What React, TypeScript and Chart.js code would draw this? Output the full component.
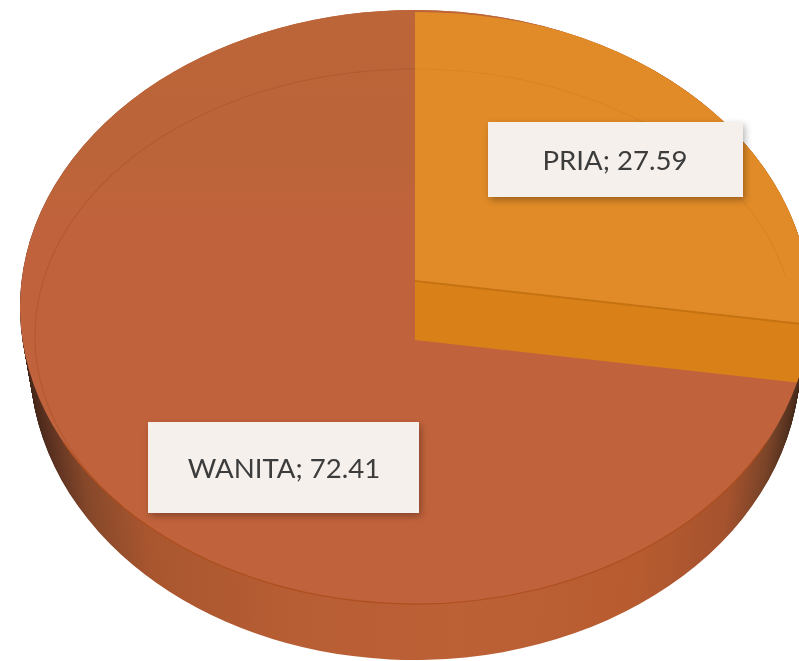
import React, { useEffect, useRef } from "react";
import { Chart, registerables } from "chart.js";

Chart.register(...registerables);

const categories = ["PRIA", "WANITA"];
const shares = [27.59, 72.41];
const faceColors = ["#E18B28", "#C0633C"];
const wallColor = "#DA8018";
const wallEdgeColor = "#C47212";

const W = 799;
const H = 661;

const MAIN = { cx: 415, cy: 307, rx: 395, ry: 297 };
const ORANGE_TOP = { cx: 415, cy: 280, rx: 395, ry: 268 };
const ORANGE_WALL_DROP = 60;
const RIM = { drop: 55, rxEnd: 385, ryEnd: 298 };
const BEVEL = { cx: 415, cy: 336, rx: 380, ry: 267 };
const LABEL_BOXES = [
  { x: 488, y: 122, w: 255, h: 75, tx: 615, ty: 170 },
  { x: 148, y: 422, w: 271, h: 91, tx: 284, ty: 478 },
];

type Geo = { cx: number; cy: number; rx: number; ry: number };

function paintArc(ctx: CanvasRenderingContext2D, arc: any, fill: any, g: Geo) {
  const original = arc.options;
  ctx.save();
  ctx.translate(g.cx, g.cy);
  ctx.scale(g.rx / arc.outerRadius, g.ry / arc.outerRadius);
  ctx.translate(-arc.x, -arc.y);
  arc.options = { ...original, backgroundColor: fill, borderWidth: 0 };
  arc.draw(ctx);
  arc.options = original;
  ctx.restore();
}

const pie3d = {
  id: "pie3d",
  beforeDatasetsDraw(chart: any) {
    const ctx: CanvasRenderingContext2D = chart.ctx;
    const [pria, wanita] = chart.getDatasetMeta(0).data;
    const R = wanita.outerRadius;

    // rim of the disc, stacked from the bottom up
    const rim = ctx.createLinearGradient(wanita.x - R, 0, wanita.x + R, 0);
    rim.addColorStop(0, "#3E2418");
    rim.addColorStop(0.03, "#5A3020");
    rim.addColorStop(0.08, "#86482A");
    rim.addColorStop(0.16, "#A9562F");
    rim.addColorStop(0.35, "#B85E34");
    rim.addColorStop(0.55, "#BC6036");
    rim.addColorStop(0.78, "#B85C30");
    rim.addColorStop(0.9, "#A5522E");
    rim.addColorStop(0.95, "#7A4428");
    rim.addColorStop(1, "#3A2418");
    for (let d = RIM.drop; d >= 0; d -= 1) {
      const t = d / RIM.drop;
      const g = {
        cx: MAIN.cx,
        cy: MAIN.cy + d,
        rx: MAIN.rx + (RIM.rxEnd - MAIN.rx) * t,
        ry: MAIN.ry + (RIM.ryEnd - MAIN.ry) * t,
      };
      paintArc(ctx, wanita, rim, g);
      paintArc(ctx, pria, rim, g);
    }

    // WANITA face
    const face = ctx.createLinearGradient(0, wanita.y - R, 0, wanita.y + R);
    face.addColorStop(0, "#BC6539");
    face.addColorStop(0.25, "#BC6439");
    face.addColorStop(0.35, faceColors[1]);
    face.addColorStop(1, faceColors[1]);
    paintArc(ctx, wanita, face, MAIN);
    paintArc(ctx, pria, face, MAIN);

    // PRIA wedge, raised above the face and cut to its outline
    ctx.save();
    ctx.beginPath();
    ctx.ellipse(MAIN.cx, MAIN.cy, MAIN.rx, MAIN.ry, 0, 0, Math.PI * 2);
    ctx.clip();
    paintArc(ctx, pria, wallColor, { ...ORANGE_TOP, cy: ORANGE_TOP.cy + ORANGE_WALL_DROP });
    paintArc(ctx, pria, wallColor, { ...ORANGE_TOP, cy: ORANGE_TOP.cy + ORANGE_WALL_DROP / 2 });
    paintArc(ctx, pria, wallEdgeColor, { ...ORANGE_TOP, cy: ORANGE_TOP.cy + 2 });
    paintArc(ctx, pria, faceColors[0], ORANGE_TOP);
    ctx.restore();

    // faint inner bevel line
    ctx.save();
    ctx.beginPath();
    ctx.ellipse(BEVEL.cx, BEVEL.cy, BEVEL.rx, BEVEL.ry, 0, Math.PI * 0.78, Math.PI * 1.5);
    ctx.strokeStyle = "rgba(150,70,30,0.3)";
    ctx.lineWidth = 1.2;
    ctx.stroke();
    ctx.beginPath();
    ctx.ellipse(BEVEL.cx, BEVEL.cy, BEVEL.rx, BEVEL.ry, 0, Math.PI * 1.5, Math.PI * 1.93);
    ctx.strokeStyle = "rgba(190,110,30,0.25)";
    ctx.stroke();
    ctx.beginPath();
    ctx.ellipse(MAIN.cx, MAIN.cy, MAIN.rx, MAIN.ry, 0, Math.PI * 0.15, Math.PI * 0.85);
    ctx.strokeStyle = "rgba(170,75,25,0.8)";
    ctx.lineWidth = 1.2;
    ctx.stroke();
    ctx.restore();

    return false;
  },
  afterDraw(chart: any) {
    const ctx: CanvasRenderingContext2D = chart.ctx;
    categories.forEach((name, i) => {
      const b = LABEL_BOXES[i];
      ctx.save();
      ctx.shadowColor = "rgba(0,0,0,0.3)";
      ctx.shadowBlur = 7;
      ctx.shadowOffsetX = 2;
      ctx.shadowOffsetY = 3;
      ctx.fillStyle = "#F5F0EC";
      ctx.fillRect(b.x, b.y, b.w, b.h);
      ctx.restore();
      ctx.fillStyle = "#3C3C3C";
      ctx.font = "27.6px Lato";
      ctx.textAlign = "center";
      ctx.textBaseline = "alphabetic";
      ctx.fillText(`${name}; ${shares[i]}`, b.tx, b.ty);
    });
  },
};

export default function App() {
  const ref = useRef<HTMLCanvasElement>(null);
  useEffect(() => {
    const chart = new Chart(ref.current!, {
      type: "pie",
      data: {
        labels: categories,
        datasets: [{ data: shares, backgroundColor: faceColors, borderWidth: 0 }],
      },
      options: {
        responsive: false,
        animation: false,
        plugins: { legend: { display: false }, tooltip: { enabled: false } },
      },
      plugins: [pie3d],
    } as any);
    return () => chart.destroy();
  }, []);
  return (
    <div style={{ position: "absolute", left: 0, top: 0, width: W, height: H, overflow: "hidden" }}>
      <canvas ref={ref} width={W} height={H} style={{ display: "block", filter: "blur(0.5px)" }} />
    </div>
  );
}
